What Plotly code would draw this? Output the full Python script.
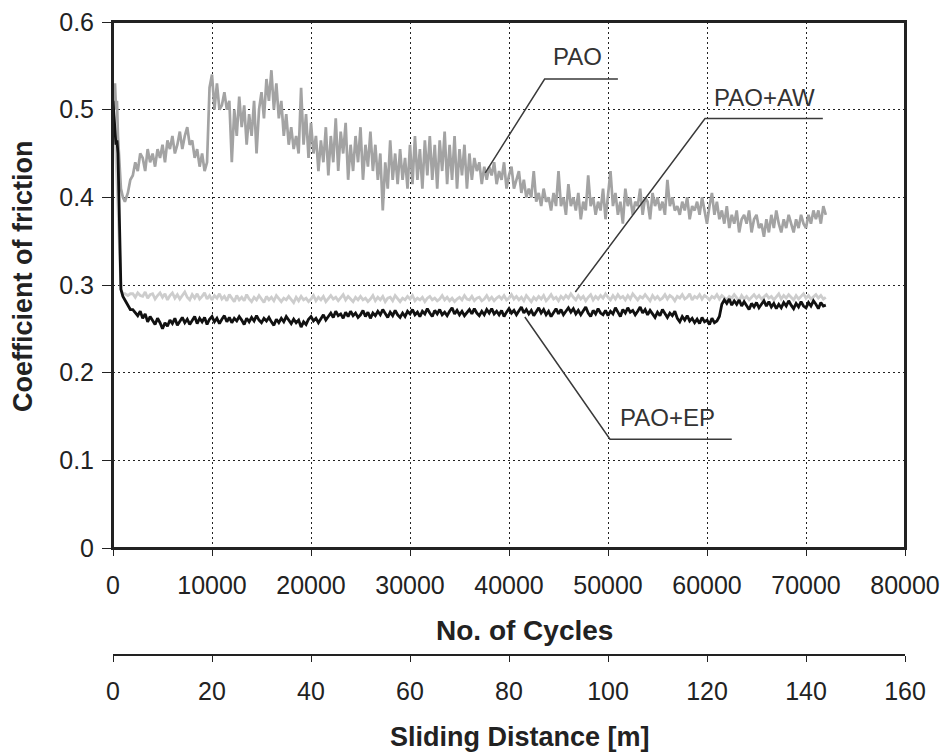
import plotly.graph_objects as go

# ---------------- data ----------------
cycles_start = [0, 100, 200, 300, 400, 500, 600, 700, 800, 1000, 1200, 1500, 1750]
cycles_step = 250
cycles_regular = list(range(2000, 72001, cycles_step))
cycles = cycles_start + cycles_regular

pao_start = [0.50, 0.52, 0.53, 0.50, 0.51, 0.47, 0.45, 0.43, 0.41, 0.40, 0.395, 0.405, 0.42]
pao_regular = [
    0.425, 0.44, 0.43, 0.45,   0.445, 0.43, 0.455, 0.44,   0.45, 0.435, 0.455, 0.445,
    0.46, 0.44, 0.465, 0.455,  0.47, 0.45, 0.46, 0.475,    0.455, 0.47, 0.48, 0.46,
    0.465, 0.445, 0.455, 0.435, 0.45, 0.43, 0.44, 0.525,   0.54, 0.50, 0.53, 0.50,
    0.505, 0.52, 0.50, 0.51,   0.44, 0.50, 0.47, 0.515,    0.48, 0.505, 0.46, 0.495,
    0.47, 0.51, 0.45, 0.50,    0.52, 0.49, 0.535, 0.51,    0.545, 0.50, 0.53, 0.49,
    0.51, 0.47, 0.495, 0.46,   0.48, 0.455, 0.47, 0.45,    0.525, 0.46, 0.495, 0.445,
    0.485, 0.45, 0.47, 0.43,   0.465, 0.44, 0.48, 0.425,   0.47, 0.44, 0.49, 0.43,
    0.475, 0.45, 0.485, 0.42,  0.46, 0.43, 0.47, 0.44,     0.48, 0.42, 0.46, 0.435,
    0.475, 0.43, 0.46, 0.42,   0.45, 0.385, 0.44, 0.41,    0.465, 0.42, 0.45, 0.415,
    0.455, 0.42, 0.445, 0.41,  0.46, 0.415, 0.47, 0.42,    0.455, 0.41, 0.465, 0.425,
    0.47, 0.42, 0.46, 0.41,    0.465, 0.43, 0.475, 0.415,  0.46, 0.42, 0.47, 0.41,
    0.455, 0.425, 0.46, 0.41,  0.45, 0.42, 0.445, 0.43,    0.44, 0.415, 0.435, 0.42,
    0.435, 0.425, 0.44, 0.415, 0.43, 0.42, 0.44, 0.41,     0.425, 0.435, 0.41, 0.42,
    0.43, 0.405, 0.42, 0.40,   0.41, 0.40, 0.43, 0.395,    0.405, 0.39, 0.41, 0.395,
    0.40, 0.385, 0.405, 0.39,  0.43, 0.39, 0.40, 0.38,     0.415, 0.39, 0.40, 0.385,
    0.405, 0.375, 0.395, 0.385, 0.425, 0.39, 0.40, 0.38,   0.395, 0.385, 0.41, 0.375,
    0.40, 0.43, 0.39, 0.405,   0.38, 0.395, 0.37, 0.41,    0.39, 0.40, 0.38, 0.395,
    0.39, 0.41, 0.38, 0.40,    0.395, 0.375, 0.405, 0.39,  0.40, 0.385, 0.395, 0.38,
    0.42, 0.39, 0.40, 0.385,   0.39, 0.38, 0.395, 0.385,   0.40, 0.375, 0.39, 0.385,
    0.395, 0.38, 0.40, 0.385,  0.37, 0.39, 0.405, 0.38,    0.395, 0.375, 0.385, 0.37,
    0.39, 0.365, 0.38, 0.37,   0.385, 0.36, 0.375, 0.38,   0.37, 0.385, 0.36, 0.375,
    0.38, 0.365, 0.37, 0.355,  0.375, 0.36, 0.38, 0.365,   0.385, 0.37, 0.36, 0.375,
    0.365, 0.38, 0.37, 0.36,   0.375, 0.365, 0.38, 0.37,   0.365, 0.38, 0.37, 0.385,
    0.375, 0.385, 0.37, 0.39,  0.38,
]
pao = pao_start + pao_regular

aw_start = [0.50, 0.49, 0.47, 0.45, 0.42, 0.39, 0.35, 0.31, 0.295, 0.29, 0.29, 0.288, 0.29]
aw_regular = [
    .29, .286, .291, .288,  .287, .292, .285, .289,  .29, .284, .288, .291,
    .286, .29, .283, .288,  .291, .285, .289, .284,  .288, .292, .286, .283,
    .289, .285, .29, .284,  .287, .291, .284, .288,  .283, .288, .285, .29,
    .284, .287, .282, .289, .285, .281, .288, .283,  .286, .282, .289, .284,
    .281, .286, .283, .288, .284, .28, .287, .283,   .286, .282, .288, .284,
    .281, .285, .283, .287, .284, .28, .286, .282,   .287, .283, .285, .281,
    .284, .288, .282, .286, .283, .287, .281, .285,  .288, .284, .286, .282,
    .285, .289, .283, .287, .284, .281, .286, .283,  .287, .283, .285, .281,
    .284, .288, .282, .286, .283, .287, .281, .285,  .286, .282, .288, .284,
    .281, .285, .283, .287, .284, .288, .282, .285,  .283, .286, .281, .285,
    .287, .283, .285, .282, .284, .288, .283, .286,  .282, .285, .281, .284,
    .286, .283, .288, .284, .283, .287, .282, .285,  .286, .282, .284, .288,
    .283, .286, .282, .285, .287, .284, .288, .283,  .285, .289, .284, .287,
    .283, .286, .282, .288, .285, .281, .286, .283,  .287, .284, .288, .282,
    .285, .289, .284, .286, .282, .287, .284, .288,  .285, .29, .286, .283,
    .288, .284, .287, .282, .286, .289, .283, .287,  .284, .288, .285, .29,
    .286, .283, .288, .284, .289, .285, .287, .283,  .288, .284, .29, .286,
    .283, .287, .285, .289, .286, .282, .288, .284,  .287, .283, .285, .289,
    .284, .288, .286, .282, .287, .285, .289, .284,  .286, .29, .283, .287,
    .285, .289, .284, .288, .286, .283, .287, .285,  .289, .284, .288, .286,
    .283, .287, .285, .289, .286, .282, .288, .284,  .287, .283, .286, .289,
    .285, .288, .284, .287, .289, .285, .287, .283,  .286, .29, .284, .288,
    .285, .289, .286, .283, .288, .284, .287, .29,   .285, .288, .284, .287,
    .289, .285, .288, .284, .286,
]
aw = aw_start + aw_regular

ep_start = [0.51, 0.49, 0.47, 0.46, 0.465, 0.45, 0.40, 0.33, 0.295, 0.287, 0.283, 0.278, 0.272]
ep_regular = [
    .272, .268, .265, .27,  .262, .267, .258, .264,  .26, .255, .262, .257,
    .25, .257, .253, .26,   .256, .262, .254, .259,  .263, .257, .261, .255,
    .26, .264, .256, .262,  .258, .263, .255, .261,  .264, .258, .262, .256,
    .261, .265, .258, .263, .257, .262, .259, .264,  .26, .255, .262, .258,
    .263, .259, .265, .26,  .257, .262, .259, .263,  .258, .254, .261, .257,
    .262, .258, .264, .26,  .256, .261, .257, .26,   .252, .258, .255, .261,
    .264, .259, .262, .257, .261, .266, .26, .264,   .268, .263, .27, .265,
    .267, .262, .269, .264, .27, .265, .268, .263,   .266, .271, .264, .269,
    .262, .268, .265, .27,  .266, .272, .267, .263,  .269, .265, .271, .266,
    .263, .268, .264, .27,  .267, .272, .266, .269,  .264, .27, .267, .273,
    .268, .264, .271, .267, .272, .266, .269, .265,  .27, .274, .267, .271,
    .266, .27, .265, .268,  .272, .267, .273, .268,  .265, .27, .266, .272,
    .268, .273, .267, .27,  .266, .271, .264, .269,  .273, .268, .271, .266,
    .27, .275, .268, .272,  .267, .271, .265, .27,   .274, .268, .272, .266,
    .27, .264, .269, .273,  .267, .272, .266, .27,   .274, .269, .273, .267,
    .271, .266, .27, .275,  .268, .264, .271, .267,  .273, .268, .266, .271,
    .265, .27, .267, .274,  .269, .264, .272, .268,  .274, .269, .271, .266,
    .27, .275, .268, .272,  .266, .271, .267, .263,  .269, .265, .272, .268,
    .263, .268, .265, .27,  .262, .258, .264, .26,   .265, .259, .262, .257,
    .261, .256, .263, .258, .26, .255, .262, .257,   .259, .264, .278, .283,
    .279, .284, .277, .282, .278, .283, .276, .281,  .277, .272, .279, .275,
    .28, .274, .278, .282,  .276, .281, .275, .279,  .273, .278, .274, .28,
    .276, .282, .277, .273, .279, .275, .281, .276,  .274, .28, .276, .282,
    .278, .273, .28, .276,  .277,
]
ep = ep_start + ep_regular

# tick labels
friction_ticks = [0, 0.1, 0.2, 0.3, 0.4, 0.5, 0.6]
friction_tick_text = ["0", "0.1", "0.2", "0.3", "0.4", "0.5", "0.6"]
cycle_ticks = [0, 10000, 20000, 30000, 40000, 50000, 60000, 70000, 80000]
distance_ticks = [0, 20, 40, 60, 80, 100, 120, 140, 160]

# callout labels: text, label position, leader polyline (data coords)
labels = ["PAO", "PAO+AW", "PAO+EP"]
label_x = [46900, 65800, 56000]
label_y = [0.561, 0.514, 0.149]
leader_x = [[37600, 43600, 51000], [46700, 59800, 71700], [41600, 50200, 62500]]
leader_y = [[0.428, 0.535, 0.535], [0.292, 0.490, 0.490], [0.2635, 0.124, 0.124]]

# ---------------- figure ----------------
FONT = "Arial, Liberation Sans, sans-serif"
fig = go.Figure()

fig.add_trace(go.Scatter(x=cycles, y=pao, mode="lines", name="PAO",
                         line=dict(color="#a3a3a3", width=2.7)))
fig.add_trace(go.Scatter(x=cycles, y=aw, mode="lines", name="PAO+AW",
                         line=dict(color="#cdcdcd", width=2.8)))
fig.add_trace(go.Scatter(x=cycles, y=ep, mode="lines", name="PAO+EP",
                         line=dict(color="#111111", width=2.8)))

for lx, ly in zip(leader_x, leader_y):
    fig.add_trace(go.Scatter(x=lx, y=ly, mode="lines", hoverinfo="skip",
                             line=dict(color="#3a3a3a", width=1.5), showlegend=False))

# secondary (sliding distance) axis carrier
fig.add_trace(go.Scatter(x=distance_ticks, y=[None] * len(distance_ticks), xaxis="x2",
                         mode="lines", hoverinfo="skip", showlegend=False))

for t, x, y in zip(labels, label_x, label_y):
    fig.add_annotation(x=x, y=y, xref="x", yref="y", text=t, showarrow=False,
                       xanchor="center", yanchor="middle",
                       font=dict(family=FONT, size=24, color="#333333"))

# plot frame (top and right edges included)
fig.add_shape(type="rect", xref="x domain", yref="y domain", x0=0, x1=1, y0=0, y1=1,
              line=dict(color="#222222", width=2), fillcolor="rgba(0,0,0,0)", layer="above")

# the page body adds an 8px margin around the figure
OFF = 8
W, H = 949, 753
plot_left, plot_right, plot_top, plot_bottom = 113, 905, 22, 713   # screen px
L = plot_left - OFF
R = W + OFF - plot_right
T = plot_top - OFF
B = H + OFF - plot_bottom
plot_h = plot_bottom - plot_top
y_zero_px = 548
sec_axis_px = 655
ydom0 = (plot_bottom - y_zero_px) / plot_h


def py(px):
    return (plot_bottom - px) / plot_h


def pxr(px):
    return (px - plot_left) / (plot_right - plot_left)


title_font = dict(family=FONT, size=27, color="#222222")
fig.add_annotation(x=pxr(524), y=py(630), xref="paper", yref="paper", text="<b>No. of Cycles</b>",
                   xanchor="center", yanchor="middle", showarrow=False,
                   font=dict(family=FONT, size=28, color="#222222"))
fig.add_annotation(x=pxr(520), y=py(737), xref="paper", yref="paper", text="<b>Sliding Distance [m]</b>",
                   xanchor="center", yanchor="middle", showarrow=False, font=title_font)
fig.add_annotation(x=pxr(23), y=py(276), xref="paper", yref="paper", text="<b>Coefficient of friction</b>",
                   xanchor="center", yanchor="middle", textangle=-90, showarrow=False, font=title_font)

grid = dict(showgrid=True, gridcolor="#222222", gridwidth=1.3, griddash="2px,3px")

fig.update_layout(
    width=W, height=H,
    margin=dict(l=L, r=R, t=T, b=B, autoexpand=False),
    paper_bgcolor="white", plot_bgcolor="white",
    showlegend=False,
    font=dict(family=FONT, size=25, color="#222222"),
    xaxis=dict(range=[0, 80000], tickvals=cycle_ticks, ticktext=[str(v) for v in cycle_ticks],
               showline=True, linecolor="#222222", linewidth=2, mirror=True,
               ticks="outside", ticklen=6, tickcolor="#222222", ticklabelstandoff=8,
               ticklabeloverflow="allow", zeroline=False, anchor="y", automargin=False, **grid),
    yaxis=dict(range=[0, 0.6], domain=[ydom0, 1], tickvals=friction_ticks, ticktext=friction_tick_text,
               showline=True, linecolor="#222222", linewidth=2, mirror=True,
               ticks="outside", ticklen=9, tickcolor="#222222", ticklabelstandoff=3,
               ticklabeloverflow="allow", zeroline=False, automargin=False, **grid),
    xaxis2=dict(range=[0, 160], tickvals=distance_ticks, overlaying="x", anchor="free",
                position=py(sec_axis_px), side="bottom", showgrid=False, zeroline=False,
                showline=True, linecolor="#222222", linewidth=2, automargin=False,
                ticklabeloverflow="allow",
                ticks="outside", ticklen=6, tickcolor="#222222", ticklabelstandoff=8),
)

fig.write_html("out.html")
